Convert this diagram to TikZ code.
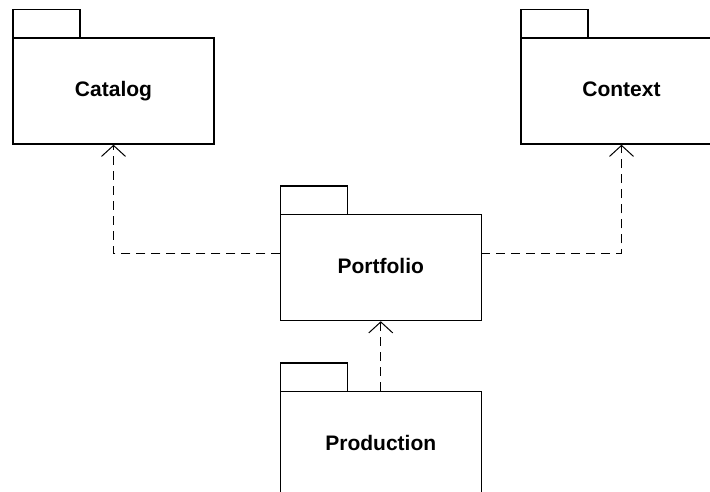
\documentclass[tikz,border=0pt]{standalone}
\usepackage{fontspec}
\setmainfont{Liberation Sans}
\usepackage{tikz}
\usetikzlibrary{arrows.meta}
\usetikzlibrary{positioning}

\begin{document}
\begin{tikzpicture}
	[x=1pt, y=-1pt, line width=1.5pt,
	pkg/.style = {
		draw, rectangle, inner sep=0cm, outer sep=0cm,
		minimum width=201pt, minimum height=106pt,
		text height=15pt, text depth=3pt,
		font=\fontsize{21}{25}\selectfont\bfseries
	},
	pkgtab/.style = {
		draw, rectangle, inner sep=0cm, outer sep=0cm,
		minimum width=67pt, minimum height=28.5pt,
		anchor=south west
	},
	dep/.style = {
		line width=1pt, dash pattern=on 9pt off 6pt,
		-{Straight Barb[length=11pt, width=24pt, line width=1pt]}
	}]
	\clip (0,0) rectangle (710,492);
	
	%Draw nodes
	\node[pkg] at (113.5,91) (catalog) {Catalog};
	\node[pkgtab] at (catalog.north west) (catalogtab) {};
	\node[pkg] at (621.5,91) (context) {Context};
	\node[pkgtab] at (context.north west) (contexttab) {};
	\node[pkg] at (380.75,267.5) (portfolio) {Portfolio};
	\node[pkgtab] at (portfolio.north west) (portfoliotab) {};
	\node[pkg] at (380.75,444.5) (production) {Production};
	\node[pkgtab] at (production.north west) (productiontab) {};
	
	%Draw wires
	\draw[dep] ([yshift=14.5pt]portfolio.west) -| ([yshift=-0.75pt]catalog.south);
	\draw[dep] ([yshift=14.5pt]portfolio.east) -| ([yshift=-0.75pt]context.south);
	\draw[dep] ([yshift=0.75pt]production.north) -- ([yshift=-0.75pt]portfolio.south);
\end{tikzpicture}
\end{document}
